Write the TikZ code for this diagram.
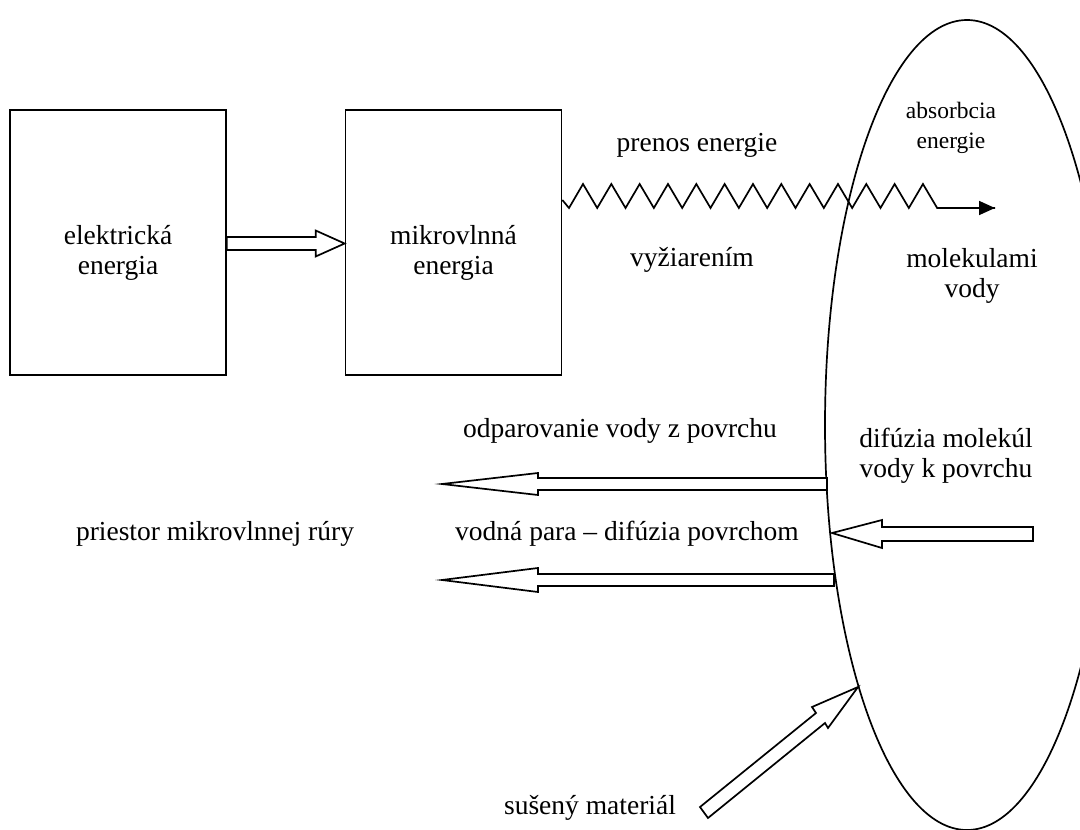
\documentclass[tikz,border=0pt]{standalone}
\usepackage{fontspec}
\setmainfont{Liberation Serif}
\usetikzlibrary{shapes.geometric,arrows.meta,calc}
\begin{document}
\begin{tikzpicture}[x=1pt,y=-1pt,
  lw/.style={line width=1.7pt},
  boxnode/.style={draw,lw,minimum width=216pt,minimum height=265pt,inner sep=0pt},
  txt/.style={font=\fontsize{27.5}{29.5}\selectfont,align=center,inner sep=0pt},
  smalltxt/.style={font=\fontsize{23.5}{30}\selectfont,align=center,inner sep=0pt},
  blk/.style={draw,lw,fill=white,line join=miter}]
\useasboundingbox (0,0) rectangle (1080,830);
\begin{scope}
\clip (0,0) rectangle (1080,830);
\node[draw,lw,ellipse,minimum width=284pt,minimum height=810pt,inner sep=0pt] (mat) at (967,425) {};
\end{scope}
% boxes
\node[boxnode] (el) at (118,242.5) {};
\node[boxnode] (mw) at (453.5,242.5) {};
\node[txt,anchor=north] (elt) at ($(el.center)+(0,-17)$) {elektrická\\energia};
\node[txt,anchor=north] (mwt) at ($(mw.center)+(0,-17)$) {mikrovlnná\\energia};
% block arrow el -> mw
\coordinate (a1) at (el.east |- 0,243.5);
\coordinate (a2) at (mw.west |- 0,243.5);
\draw[blk] ($(a1)+(0,-6.5)$) -- ($(a2)+(-29,-6.5)$) -- ($(a2)+(-29,-13)$) -- (a2)
  -- ($(a2)+(-29,13)$) -- ($(a2)+(-29,6.5)$) -- ($(a1)+(0,6.5)$) -- cycle;
% zigzag
\coordinate (z0) at (mw.east |- 0,200);
\coordinate (zend) at (995,208);
\draw[lw,line join=miter] (z0) -- (569,208)
  \foreach \k in {0,...,12} { -- ({583+28.33*\k},184) -- ({597.2+28.33*\k},208) }
  -- (zend);
\draw[lw,-{Triangle[length=16pt,width=14pt]}] (937,208) -- (zend);
% texts
\node[txt] (t1) at (697,145) {prenos energie};
\node[txt] (t2) at (692,260) {vyžiarením};
\node[smalltxt] (t3) at (951,128) {absorbcia\\energie};
\node[txt] (t4) at (972,276) {molekulami\\vody};
\node[txt] (t5) at (946,456) {difúzia molekúl\\vody k povrchu};
\node[txt] (t6) at (620,431) {odparovanie vody z povrchu};
\node[txt] (t7) at (215,534) {priestor mikrovlnnej rúry};
\node[txt] (t8) at (627,534) {vodná para – difúzia povrchom};
\node[txt] (t9) at (590,808) {sušený materiál};
% left arrows
\draw[blk] (827,478) -- (538,478) -- (538,473) -- (442,484) -- (538,495) -- (538,490) -- (827,490) -- cycle;
\draw[blk] (834,574) -- (538,574) -- (538,568) -- (442,580) -- (538,592) -- (538,586) -- (834,586) -- cycle;
% right arrow into material
\draw[blk] (1033,527) -- (882,527) -- (882,520) -- (832,533) -- (882,548) -- (882,541) -- (1033,541) -- cycle;
% material arrow
\draw[blk] (858,687) -- (812,707) -- (816,713) -- (700,807) -- (708,818) -- (825,723) -- (828,728) -- cycle;
\end{tikzpicture}
\end{document}
